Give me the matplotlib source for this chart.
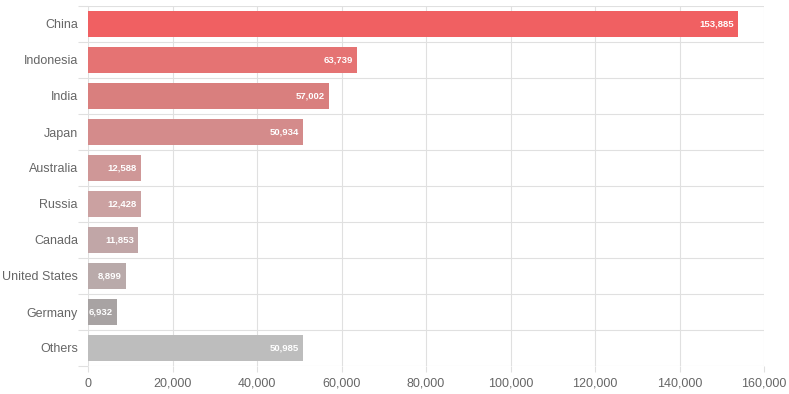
import matplotlib.pyplot as plt
from matplotlib.ticker import FuncFormatter, MultipleLocator
import numpy as np

countries = ['China', 'Indonesia', 'India', 'Japan', 'Australia', 'Russia',
             'Canada', 'United States', 'Germany', 'Others']
values = [153885, 63739, 57002, 50934, 12588, 12428, 11853, 8899, 6932, 50985]
colors = ['#f06062', '#e57373', '#d97f7e', '#d48b8b', '#cf9797', '#cba1a1',
          '#c1a6a7', '#b9aaaa', '#a8a3a3', '#bdbdbd']


def fmt(v, pos=None):
    return '{:,.0f}'.format(v)


def main():
    plt.rcParams['font.family'] = ['Liberation Sans', 'DejaVu Sans']
    fig = plt.figure(figsize=(7.89, 3.94), dpi=100)
    ax = fig.add_axes([88 / 789, 1 - 366 / 394, 676 / 789, 360 / 394])

    y = np.arange(len(countries))
    ax.barh(y, values, height=0.72, color=colors, zorder=2)

    # value labels inside the bars, right aligned
    for yi, v in zip(y, values):
        ax.annotate(fmt(v), xy=(v, yi), xytext=(-3, 0), textcoords='offset points',
                    ha='right', va='center', color='white', fontsize=6.8,
                    fontweight='bold', zorder=3)

    ax.set_xlim(0, 160000)
    ax.set_ylim(len(countries) - 0.5, -0.5)

    grid_c = '#e0e0e0'
    ax.xaxis.set_major_locator(MultipleLocator(20000))
    ax.xaxis.set_major_formatter(FuncFormatter(fmt))
    ax.grid(axis='x', color=grid_c, linewidth=0.8, zorder=0)

    ax.set_yticks(y)
    ax.set_yticklabels(countries)
    ax.set_yticks(np.arange(len(countries) + 1) - 0.5, minor=True)
    ax.grid(axis='y', which='minor', color=grid_c, linewidth=0.8, zorder=0)

    ax.tick_params(axis='y', which='major', length=0, pad=7.2, labelsize=9,
                   labelcolor='#666666')
    ax.tick_params(axis='y', which='minor', length=7.2, color=grid_c, width=0.8)
    ax.tick_params(axis='x', length=4.3, color=grid_c, width=0.8, pad=4,
                   labelsize=9, labelcolor='#666666')

    for s in ax.spines.values():
        s.set_visible(False)

    fig.savefig('out.png', dpi=100)


if __name__ == '__main__':
    main()
